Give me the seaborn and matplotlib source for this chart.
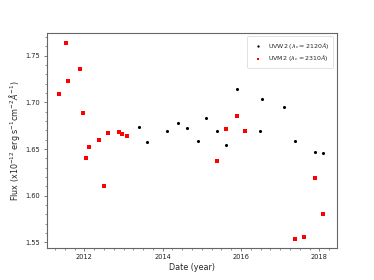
import pandas as pd
import numpy as np
import matplotlib
matplotlib.use('Agg')
import matplotlib.pyplot as plt
from matplotlib.ticker import MultipleLocator
import seaborn as sns

# UVW2 filter
uvw2_year = [2013.39, 2013.61, 2014.10, 2014.38, 2014.61, 2014.89, 2015.10, 2015.39,
             2015.61, 2015.89, 2016.49, 2016.53, 2017.10, 2017.39, 2017.89, 2018.10]
uvw2_flux = [1.6736, 1.6576, 1.6697, 1.6775, 1.6729, 1.6586, 1.6829, 1.6689,
             1.6543, 1.7140, 1.6697, 1.7040, 1.6947, 1.6590, 1.6472, 1.6458]

# UVM2 filter
uvm2_year = [2011.35, 2011.53, 2011.59, 2011.89, 2011.97, 2012.04, 2012.11, 2012.37,
             2012.49, 2012.60, 2012.89, 2012.97, 2013.10, 2015.39, 2015.61, 2015.89,
             2016.11, 2017.39, 2017.61, 2017.89, 2018.10]
uvm2_flux = [1.709, 1.764, 1.723, 1.736, 1.689, 1.640, 1.652, 1.660,
             1.611, 1.6675, 1.668, 1.6665, 1.6636, 1.6375, 1.6715, 1.6854,
             1.6697, 1.5536, 1.556, 1.619, 1.580]

lab_w2 = r'UVW2 ($\lambda_c = 2120\AA$)'
lab_m2 = r'UVM2 ($\lambda_c = 2310\AA$)'

df = pd.concat([
    pd.DataFrame({'year': uvw2_year, 'flux': uvw2_flux, 'band': lab_w2}),
    pd.DataFrame({'year': uvm2_year, 'flux': uvm2_flux, 'band': lab_m2}),
])

sns.set_style('ticks')
plt.rcParams['axes.edgecolor'] = '#666666'
plt.rcParams['xtick.color'] = '#666666'
plt.rcParams['ytick.color'] = '#666666'
plt.rcParams['xtick.labelcolor'] = '#222222'
plt.rcParams['ytick.labelcolor'] = '#222222'

fig, ax = plt.subplots(figsize=(3.74, 2.8), dpi=100)
fig.subplots_adjust(left=0.125, right=0.9, bottom=0.114, top=0.881)

sns.scatterplot(data=df[df.band == lab_w2], x='year', y='flux', color='black',
                marker='o', s=5, linewidth=0, label=lab_w2, ax=ax)
sns.scatterplot(data=df[df.band == lab_m2], x='year', y='flux', color='red',
                marker='s', s=7.5, linewidth=0, label=lab_m2, ax=ax)

ax.set_xlim(2011.04, 2018.44)
ax.set_ylim(1.544, 1.774)
ax.set_xticks([2012, 2014, 2016, 2018])
ax.set_yticks([1.55, 1.60, 1.65, 1.70, 1.75])
ax.xaxis.set_minor_locator(MultipleLocator(0.25))
ax.yaxis.set_minor_locator(MultipleLocator(0.01))
ax.tick_params(which='major', length=2.5, width=0.6, labelsize=4.8, pad=2)
ax.tick_params(which='minor', length=1.3, width=0.5)
for s in ax.spines.values():
    s.set_linewidth(0.8)

ax.set_xlabel('Date (year)', fontsize=5.8, labelpad=2)
ax.set_ylabel(r'Flux (x10$^{-12}$ erg s$^{-1}$cm$^{-2}$$\AA^{-1}$)', fontsize=5.8, labelpad=3)

leg = ax.legend(loc='upper right', fontsize=4.5, frameon=True, markerscale=0.75,
                handletextpad=0.6, handlelength=2.0, borderpad=0.7, labelspacing=0.4)
leg.get_frame().set_linewidth(0.5)

fig.savefig('out.png', dpi=100)
